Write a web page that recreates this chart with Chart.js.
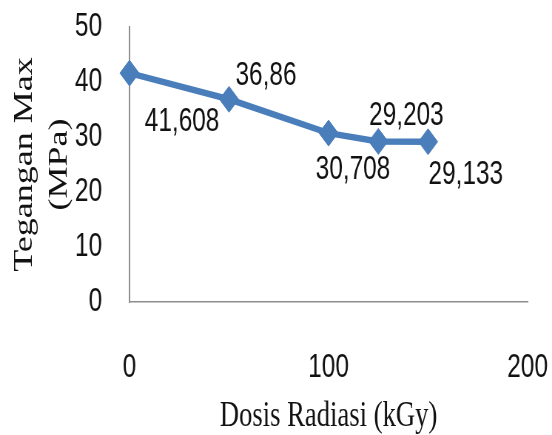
<!DOCTYPE html>
<html>
<head>
<meta charset="utf-8">
<script src="https://cdn.jsdelivr.net/npm/chart.js@4.4.0/dist/chart.umd.min.js"></script>
<style>
  html, body { margin: 0; padding: 0; background: #fff; }
</style>
</head>
<body>
<!-- drawn wider, then squeezed to 552px like the reference picture -->
<canvas id="tegangan-chart" width="746" height="435" style="width:552px;height:435px"></canvas>
<script>
// Chart data
const dosis = [0, 50, 100, 125, 150]
const tegangan = [41.608, 36.86, 30.708, 29.203, 29.133]
const xTicks = [0, 100, 200]
const yTicks = [0, 10, 20, 30, 40, 50]

const lineColor = '#4a7ebb'
const sansFont = '"Liberation Sans", Arial, sans-serif'
const serifFont = '"Liberation Serif", "Times New Roman", serif'

// Value labels next to each point (offsets in canvas px)
const valueLabels = {
    id: 'valueLabels',
    afterDatasetsDraw(chart, args, opts) {
        const ctx = chart.ctx
        const meta = chart.getDatasetMeta(0)
        ctx.save()
        ctx.font = '33px ' + sansFont
        ctx.fillStyle = '#111'
        ctx.textAlign = 'center'
        ctx.textBaseline = 'middle'
        meta.data.forEach((pt, i) => {
            const text = String(tegangan[i]).replace('.', ',')
            const off = opts.offsets[i]
            ctx.fillText(text, pt.x + off[0], pt.y + off[1])
        })
        ctx.restore()
    }
}

const ctx = document.getElementById('tegangan-chart')
const teganganChart = new Chart(ctx, {
    type: 'line',
    data: {
        datasets: [{
            data: dosis.map((d, i) => ({ x: d, y: tegangan[i] })),
            borderColor: lineColor,
            backgroundColor: lineColor,
            borderWidth: 6.5,
            tension: 0,
            pointStyle: 'rectRot',
            pointRadius: 13,
            pointBorderWidth: 1,
            pointBorderColor: lineColor,
            pointBackgroundColor: lineColor,
            clip: false,
            fill: false
        }]
    },
    options: {
        responsive: false,
        animation: false,
        devicePixelRatio: 1,
        layout: {
            padding: { top: 27, right: 33, left: 0, bottom: 0 }
        },
        scales: {
            x: {
                type: 'linear',
                min: 0,
                max: 200,
                afterBuildTicks: scale => { scale.ticks = xTicks.map(v => ({ value: v })) },
                afterFit: scale => {
                    scale.height = 133
                    scale.paddingLeft = 0
                    scale.paddingRight = 0
                },
                grid: { display: false, drawTicks: false },
                border: { display: true, color: '#8e8e8e', width: 1.6 },
                ticks: {
                    padding: 46,
                    color: '#111',
                    font: { family: sansFont, size: 33 }
                },
                title: {
                    display: true,
                    text: 'Dosis Radiasi (kGy)',
                    color: '#111',
                    padding: 0,
                    font: { family: serifFont, size: 36, lineHeight: 1 }
                }
            },
            y: {
                min: 0,
                max: 50,
                afterBuildTicks: scale => { scale.ticks = yTicks.map(v => ({ value: v })) },
                afterFit: scale => {
                    scale.width = 175
                    scale.paddingTop = 0
                    scale.paddingBottom = 0
                },
                grid: { display: false, drawTicks: false },
                border: { display: true, color: '#8e8e8e', width: 2 },
                ticks: {
                    padding: 37,
                    color: '#111',
                    font: { family: sansFont, size: 33 }
                },
                title: {
                    display: true,
                    text: ['Tegangan Max', '(MPa)'],
                    color: '#111',
                    padding: { top: 11, bottom: 0 },
                    font: { family: serifFont, size: 36, lineHeight: 1.28 }
                }
            }
        },
        plugins: {
            legend: { display: false },
            tooltip: { enabled: false },
            valueLabels: {
                offsets: [[71, 49], [50, -23], [33, 37], [38, -25], [51, 33]]
            }
        }
    },
    plugins: [valueLabels]
})
</script>
</body>
</html>
